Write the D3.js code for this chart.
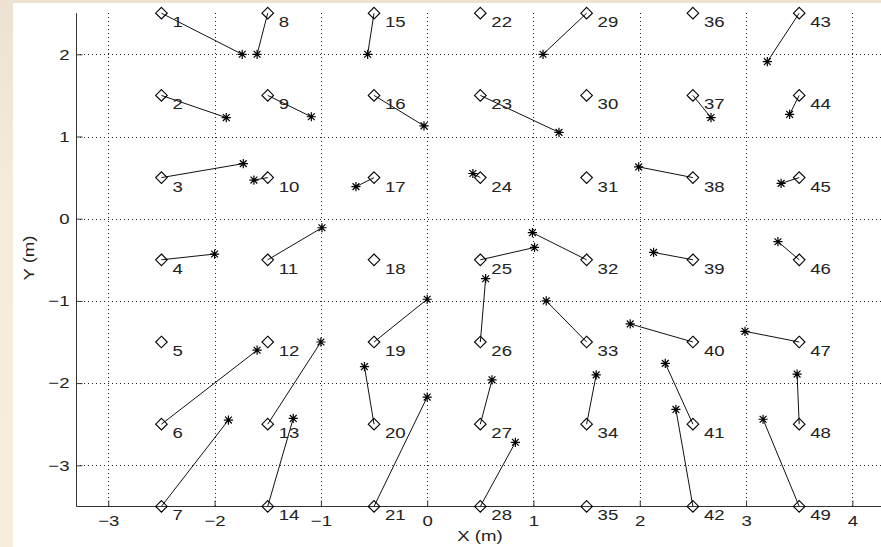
<!DOCTYPE html>
<html>
<head>
<meta charset="utf-8">
<script src="https://cdn.jsdelivr.net/npm/d3@7/dist/d3.min.js"></script>
<style>
  html, body { margin: 0; padding: 0; background: #fff; }
  svg { display: block; }
  text { font-family: "Liberation Sans", Arial, Helvetica, sans-serif; fill: #222; }
</style>
</head>
<body>
<svg id="chart" width="881" height="547"></svg>
<script>
// Reference node grid (true positions), numbered column by column, top to bottom
const gridX = [-2.5, -1.5, -0.5, 0.5, 1.5, 2.5, 3.5];
const gridY = [2.5, 1.5, 0.5, -0.5, -1.5, -2.5, -3.5];

// Estimated positions for nodes 1..49 (null = no estimate)
const estX = [
  -1.74, -1.89, -1.73, -2.00, null, -1.60, -1.87,
  -1.60, -1.09, -1.63, -0.99, null, -1.00, -1.26,
  -0.56, -0.03, -0.67, null, 0.00, -0.59, 0.00,
  null, 1.24, 0.43, 1.01, 0.55, 0.61, 0.83,
  1.09, null, null, 0.99, 1.12, 1.59, null,
  null, 2.67, 1.99, 2.13, 1.91, 2.24, 2.34,
  3.20, 3.41, 3.33, 3.30, 2.99, 3.48, 3.16
];
const estY = [
  2.00, 1.23, 0.67, -0.43, null, -1.60, -2.45,
  2.00, 1.24, 0.47, -0.11, null, -1.50, -2.43,
  2.00, 1.13, 0.39, null, -0.98, -1.80, -2.17,
  null, 1.05, 0.55, -0.35, -0.73, -1.96, -2.72,
  2.00, null, null, -0.17, -1.00, -1.90, null,
  null, 1.23, 0.63, -0.41, -1.28, -1.76, -2.32,
  1.91, 1.27, 0.43, -0.28, -1.37, -1.89, -2.44
];

const xTicks = [-3, -2, -1, 0, 1, 2, 3, 4];
const yTicks = [-3, -2, -1, 0, 1, 2];
const xDomain = [-3.3, 4.5];
const yDomain = [-3.5, 2.5];

const W = 881, H = 547;
const FS = 15;        // font size for all text
const SX = 1.24;      // horizontal stretch of the lettering
const svg = d3.select("#chart");

// page background: warm beige with a white figure panel
const defs = svg.append("defs");
const grad = defs.append("linearGradient").attr("id", "bg")
  .attr("x1", 0).attr("y1", 0).attr("x2", 0).attr("y2", 1);
grad.append("stop").attr("offset", 0).attr("stop-color", "#ede1d1");
grad.append("stop").attr("offset", 0.35).attr("stop-color", "#f6ead8");
grad.append("stop").attr("offset", 1).attr("stop-color", "#f8ecda");
svg.append("rect").attr("width", W).attr("height", H).attr("fill", "url(#bg)");
svg.append("rect").attr("x", 13).attr("y", 3).attr("width", W - 13).attr("height", H - 3).attr("fill", "#fff");

const x = d3.scaleLinear().domain(xDomain).range([76.4, 905.5]);
const y = d3.scaleLinear().domain(yDomain).range([506.4, 13.2]);

const x0 = x(xDomain[0]), y0 = y(yDomain[0]), yTop = y(yDomain[1]);

// dotted grid
const grid = svg.append("g").attr("stroke", "#222").attr("stroke-width", 1)
  .attr("stroke-dasharray", "1,3").attr("shape-rendering", "crispEdges");
grid.selectAll(".gx").data(xTicks).join("line")
  .attr("x1", d => Math.round(x(d)) + 0.5).attr("x2", d => Math.round(x(d)) + 0.5)
  .attr("y1", y0).attr("y2", yTop);
grid.selectAll(".gy").data(yTicks).join("line")
  .attr("y1", d => Math.round(y(d)) + 0.5).attr("y2", d => Math.round(y(d)) + 0.5)
  .attr("x1", x0).attr("x2", W);

// axes with inward ticks
const fmt = d => d < 0 ? "\u2212" + Math.abs(d) : String(d);
const xAxis = d3.axisBottom(x).tickValues(xTicks).tickSize(-6).tickPadding(9).tickFormat(fmt);
const yAxis = d3.axisLeft(y).tickValues(yTicks).tickSize(-6).tickPadding(8).tickFormat(fmt);

const gx = svg.append("g").attr("transform", `translate(0,${Math.round(y0) + 0.5})`).call(xAxis);
const gy = svg.append("g").attr("transform", `translate(${Math.round(x0) + 0.5},0)`).call(yAxis);
[gx, gy].forEach(g => {
  g.select(".domain").attr("stroke", "#333").attr("stroke-width", 1);
  g.selectAll(".tick line").attr("stroke", "#333");
  g.selectAll(".tick text").attr("font-size", FS).attr("fill", "#222")
    .style("font-family", "'Liberation Sans', Arial, sans-serif");
});
gx.selectAll(".tick text").attr("transform", `scale(${SX},1)`);
gy.selectAll(".tick text").attr("x", -7 / SX).attr("transform", `scale(${SX},1)`);
gx.select(".domain").attr("d", `M${x0},0H${W}`);
gy.select(".domain").attr("d", `M0,${y0}V${yTop}`);

// axis titles
svg.append("text").attr("transform", `translate(480,541) scale(${SX},1)`)
  .attr("text-anchor", "middle").attr("font-size", FS).text("X (m)");
svg.append("text").attr("transform", `translate(34,258) rotate(-90) scale(${SX},1)`)
  .attr("text-anchor", "middle").attr("font-size", FS).text("Y (m)");

// node table built from the arrays
const nodes = [];
gridX.forEach((gxv, c) => gridY.forEach((gyv, r) => {
  const i = c * gridY.length + r;
  nodes.push({ id: i + 1, tx: gxv, ty: gyv, ex: estX[i], ey: estY[i] });
}));
const withEst = nodes.filter(d => d.ex !== null);

const plot = svg.append("g");

// error segments from true position to estimate
plot.selectAll(".seg").data(withEst).join("line")
  .attr("x1", d => x(d.tx)).attr("y1", d => y(d.ty))
  .attr("x2", d => x(d.ex)).attr("y2", d => y(d.ey))
  .attr("stroke", "#111").attr("stroke-width", 1);

// diamonds at true positions
const s = 5.8;
plot.selectAll(".dia").data(nodes).join("path")
  .attr("d", d => {
    const cx = x(d.tx), cy = y(d.ty);
    return `M${cx},${cy - s}L${cx + s},${cy}L${cx},${cy + s}L${cx - s},${cy}Z`;
  })
  .attr("fill", "none").attr("stroke", "#000").attr("stroke-width", 1.1);

// asterisks at estimates
const a = 4.6, b = 3.4;
plot.selectAll(".star").data(withEst).join("path")
  .attr("d", d => {
    const cx = x(d.ex), cy = y(d.ey);
    return `M${cx - a},${cy}H${cx + a}M${cx},${cy - a}V${cy + a}` +
      `M${cx - b},${cy - b}L${cx + b},${cy + b}M${cx - b},${cy + b}L${cx + b},${cy - b}`;
  })
  .attr("fill", "none").attr("stroke", "#000").attr("stroke-width", 1.2);

// node numbers
plot.selectAll(".lbl").data(nodes).join("text")
  .attr("transform", d => `translate(${x(d.tx) + 11},${y(d.ty) + 14}) scale(${SX},1)`)
  .attr("font-size", FS).text(d => d.id);
</script>
</body>
</html>
